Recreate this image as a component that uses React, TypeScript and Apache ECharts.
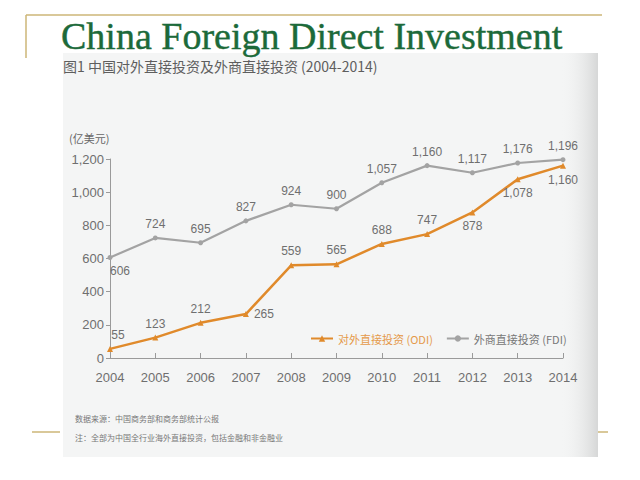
import React, { useEffect, useRef } from "react";
import * as echarts from "echarts";

const years = ["2004", "2005", "2006", "2007", "2008", "2009", "2010", "2011", "2012", "2013", "2014"];
const odi = [55, 123, 212, 265, 559, 565, 688, 747, 878, 1078, 1160];
const fdi = [606, 724, 695, 827, 924, 900, 1057, 1160, 1117, 1176, 1196];
const odiLabelPos = ["top", "top", "top", "right", "top", "top", "top", "top", "bottom", "bottom", "bottom"];
const fdiLabelPos = ["bottom", "top", "top", "top", "top", "top", "top", "top", "top", "top", "top"];

const fmt = (v: number) => v.toLocaleString("en-US");

export default function App() {
  const ref = useRef<HTMLDivElement>(null);
  useEffect(() => {
    const chart = echarts.init(ref.current!, null, { renderer: "svg" });
    const gold = "#cdb677";
    const labelStyle = { color: "#6f6f6f", fontSize: 12, fontFamily: "Liberation Sans, Arial, sans-serif" };
    chart.setOption({
      animation: false,
      backgroundColor: "#ffffff",
      graphic: [
        { type: "line", shape: { x1: 26, y1: 15, x2: 602, y2: 15 }, style: { stroke: gold, lineWidth: 1.5 }, z: 0 },
        { type: "line", shape: { x1: 26, y1: 15, x2: 26, y2: 58 }, style: { stroke: gold, lineWidth: 1.5 }, z: 0 },
        { type: "line", shape: { x1: 32, y1: 432, x2: 60, y2: 432 }, style: { stroke: gold, lineWidth: 1.5 }, z: 0 },
        { type: "line", shape: { x1: 598, y1: 432, x2: 608, y2: 432 }, style: { stroke: gold, lineWidth: 1.5 }, z: 0 },
        { type: "rect", shape: { x: 63, y: 53, width: 535, height: 404 }, style: { fill: "#f4f5f5" }, z: 0 },
        {
          type: "rect",
          shape: { x: 560, y: 53, width: 38, height: 404 },
          style: {
            fill: new echarts.graphic.LinearGradient(0, 0, 1, 0, [
              { offset: 0, color: "rgba(244,245,245,0)" },
              { offset: 1, color: "#d6d7d7" },
            ]),
          },
          z: 0,
        },
        {
          type: "text", x: 61, y: 36,
          style: {
            text: "China Foreign Direct Investment", fill: "#1c6a3a", stroke: "#1c6a3a", lineWidth: 0.4,
            font: "38px 'Liberation Serif', 'Times New Roman', serif", lineHeight: 30, textVerticalAlign: "middle",
          },
          z: 5,
        },
        {
          type: "text", x: 63, y: 66,
          style: { text: "图1 中国对外直接投资及外商直接投资 (2004-2014)", fill: "#5e5e5e", font: "14px 'Noto Sans CJK SC', sans-serif", textVerticalAlign: "middle" },
          z: 5,
        },
        {
          type: "text", x: 69, y: 138,
          style: { text: "(亿美元)", fill: "#666666", font: "11px 'Noto Sans CJK SC', sans-serif", textVerticalAlign: "middle" },
          z: 5,
        },
        {
          type: "text", x: 75, y: 418,
          style: { text: "数据来源：中国商务部和商务部统计公报", fill: "#777777", font: "8px 'Noto Sans CJK SC', sans-serif", textVerticalAlign: "middle" },
          z: 5,
        },
        {
          type: "text", x: 75, y: 437,
          style: { text: "注：全部为中国全行业海外直接投资，包括金融和非金融业", fill: "#777777", font: "8px 'Noto Sans CJK SC', sans-serif", textVerticalAlign: "middle" },
          z: 5,
        },
      ],
      legend: {
        left: 305,
        top: 328,
        itemGap: 13,
        itemWidth: 22,
        itemHeight: 8,
        textStyle: { fontSize: 11, fontFamily: "'Noto Sans CJK SC', sans-serif" },
        data: [
          { name: "对外直接投资 (ODI)", textStyle: { color: "#e59a4a" } },
          { name: "外商直接投资 (FDI)", textStyle: { color: "#777777" } },
        ],
      },
      grid: { left: 110, right: 77, top: 159, bottom: 122 },
      xAxis: {
        type: "category",
        data: years,
        boundaryGap: false,
        axisLine: { lineStyle: { color: "#9a9a9a", width: 1 } },
        axisTick: { show: true, inside: true, length: 5, lineStyle: { color: "#9a9a9a" } },
        axisLabel: { ...labelStyle, fontSize: 13, margin: 13 },
      },
      yAxis: {
        type: "value",
        min: 0,
        max: 1200,
        interval: 200,
        axisLine: { show: true, lineStyle: { color: "#9a9a9a", width: 1 } },
        axisTick: { show: true, length: 4, lineStyle: { color: "#9a9a9a" } },
        splitLine: { show: false },
        axisLabel: { ...labelStyle, fontSize: 13, margin: 6, formatter: (v: number) => fmt(v) },
      },
      series: [
        {
          name: "对外直接投资 (ODI)",
          type: "line",
          data: odi.map((v, i) => ({
            value: v,
            label: { position: odiLabelPos[i], offset: i === 0 ? [8, 0] : [0, 0] },
          })),
          symbol: "triangle",
          symbolSize: 6,
          lineStyle: { color: "#e08a2b", width: 2.5 },
          itemStyle: { color: "#e08a2b" },
          label: { show: true, ...labelStyle, fontSize: 12, distance: 5, formatter: (p: any) => fmt(p.value) },
          z: 3,
        },
        {
          name: "外商直接投资 (FDI)",
          type: "line",
          data: fdi.map((v, i) => ({
            value: v,
            label: { position: fdiLabelPos[i], offset: i === 0 ? [10, 0] : [0, 0] },
          })),
          symbol: "circle",
          symbolSize: 5,
          lineStyle: { color: "#a3a3a3", width: 2.2 },
          itemStyle: { color: "#a3a3a3" },
          label: { show: true, ...labelStyle, fontSize: 12, distance: 5, formatter: (p: any) => fmt(p.value) },
          z: 2,
        },
      ],
    });
    return () => chart.dispose();
  }, []);
  return <div ref={ref} style={{ position: "fixed", left: 0, top: 0, width: 640, height: 480 }} />;
}
